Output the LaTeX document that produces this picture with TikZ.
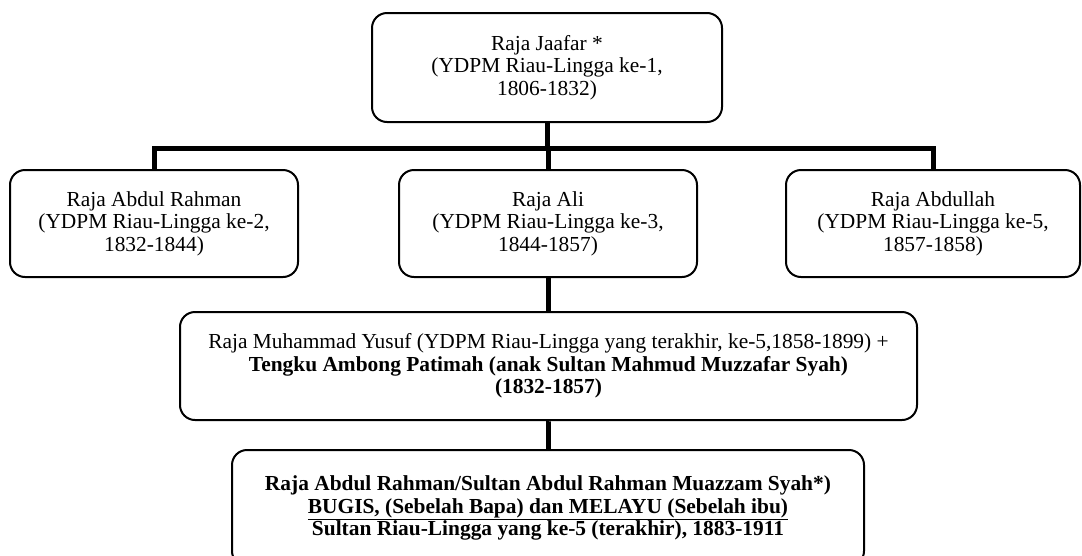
\documentclass[tikz,border=0pt]{standalone}
\usepackage{fontspec}
\setmainfont{Liberation Serif}
\begin{document}
\begin{tikzpicture}[x=1pt,y=-1pt,
  box/.style={draw, line width=2pt, rounded corners=15pt, align=center, inner sep=0pt,
    font=\fontsize{21.4}{22.5}\selectfont},
  conn/.style={line width=5pt}]
\useasboundingbox[fill=white] (0,0) rectangle (1082,555);
\node[box, minimum width=350pt, minimum height=109pt] (top) at (547,67.5)
  {Raja Jaafar *\\(YDPM Riau-Lingga ke-1,\\1806-1832)};
\node[box, minimum width=288pt, minimum height=107pt] (left) at (154,223.5)
  {Raja Abdul Rahman\\(YDPM Riau-Lingga ke-2,\\1832-1844)};
\node[box, minimum width=298pt, minimum height=107pt] (mid) at (548,223.5)
  {Raja Ali\\(YDPM Riau-Lingga ke-3,\\1844-1857)};
\node[box, minimum width=294pt, minimum height=107pt] (right) at (933,223.5)
  {Raja Abdullah\\(YDPM Riau-Lingga ke-5,\\1857-1858)};
\node[box, minimum width=737pt, minimum height=108pt] (yusuf) at (548.5,366)
  {Raja Muhammad Yusuf (YDPM Riau-Lingga yang terakhir, ke-5,1858-1899) +\\
   \textbf{Tengku Ambong Patimah (anak Sultan Mahmud Muzzafar Syah)}\\
   \textbf{(1832-1857)}};
\node[box, minimum width=632pt, minimum height=116pt] (sultan) at (548,508)
  {\textbf{Raja Abdul Rahman/Sultan Abdul Rahman Muazzam Syah*)}\\
   \textbf{\underline{BUGIS, (Sebelah Bapa) dan MELAYU (Sebelah ibu)}}\\
   \textbf{Sultan Riau-Lingga yang ke-5 (terakhir), 1883-1911}};
\coordinate (bar) at (548,148);
\draw[conn] (top.south) -- (top.south |- bar);
\draw[conn] (left.north) |- (bar) -| (right.north);
\draw[conn] (mid.north) -- (mid.north |- bar);
\draw[conn] (mid.south) -- (mid.south |- yusuf.north);
\draw[conn] (yusuf.south) -- (yusuf.south -| sultan.north) -- (sultan.north);
\end{tikzpicture}
\end{document}
